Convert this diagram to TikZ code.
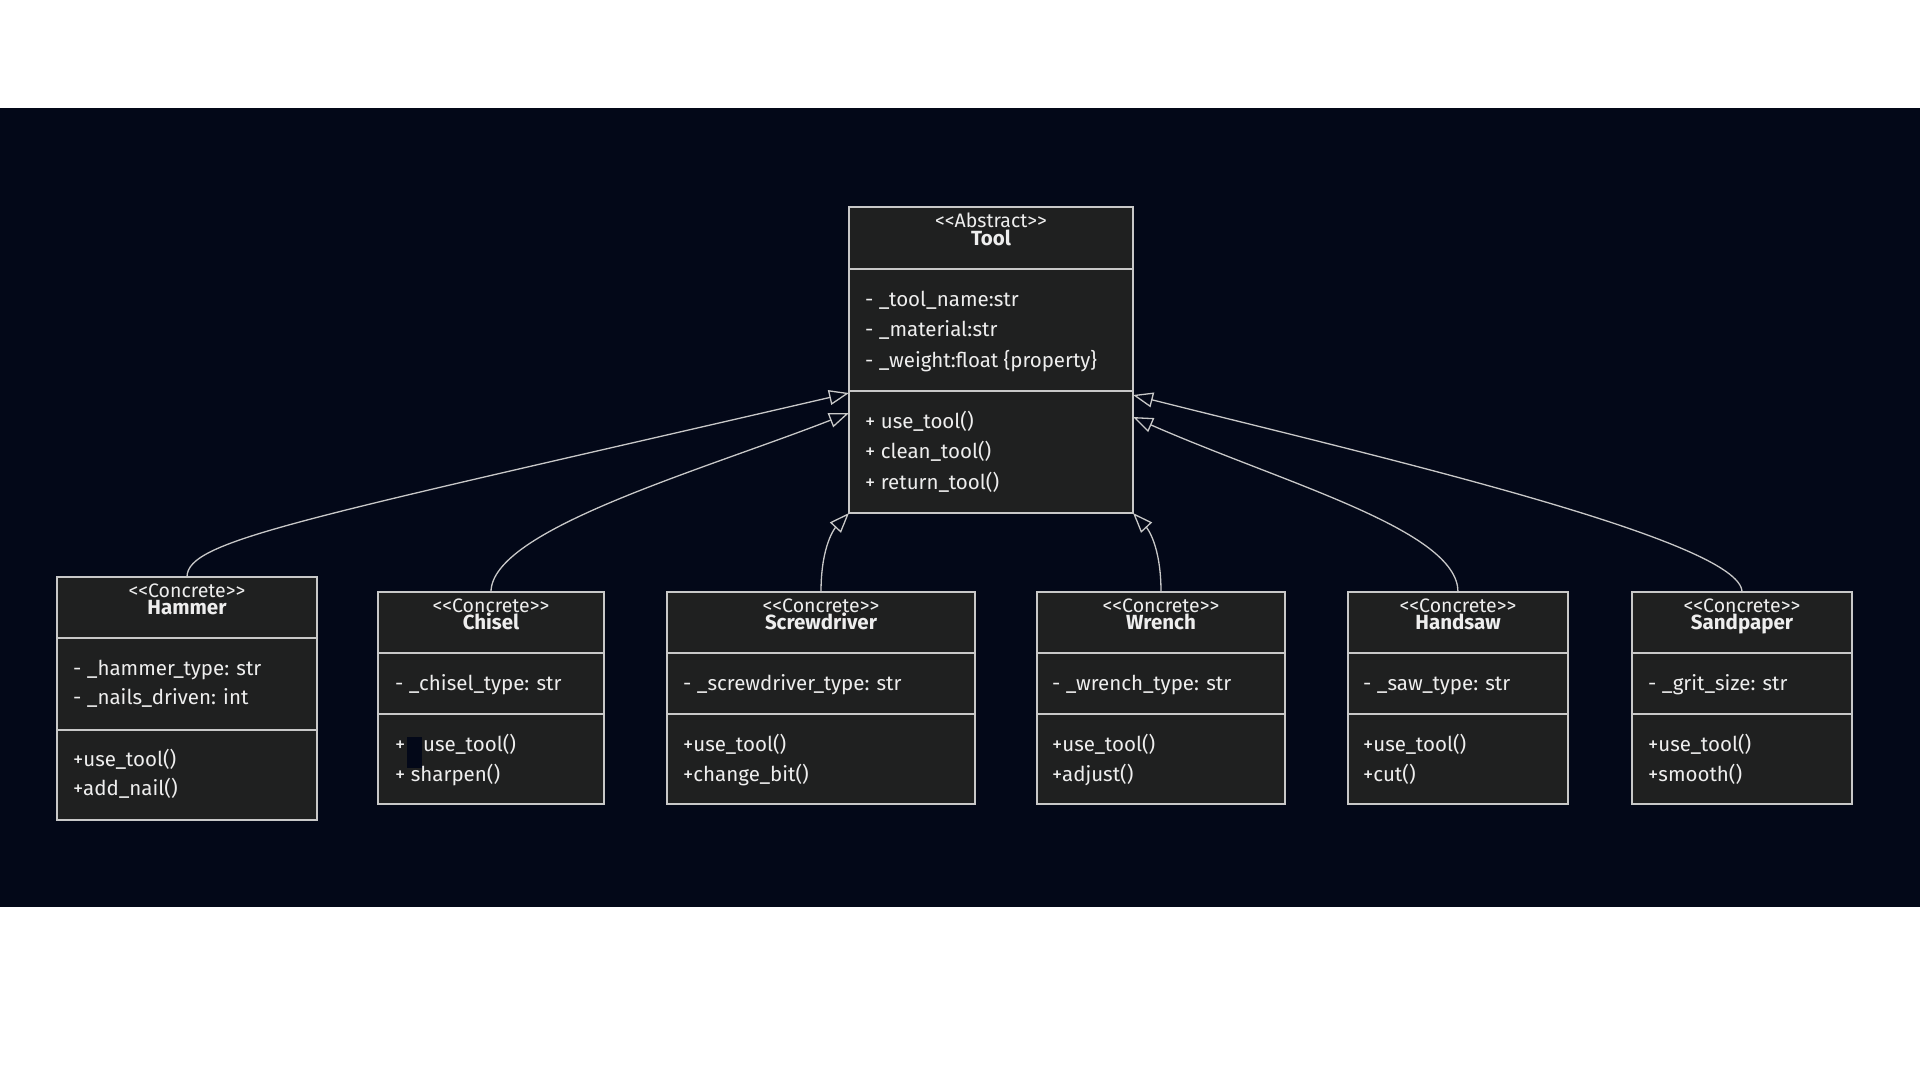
\documentclass[tikz,border=0pt]{standalone}
\usepackage{fontspec}
\setmainfont{Fira Sans}
\usetikzlibrary{arrows.meta}

\definecolor{canvas}{RGB}{3,8,24}
\definecolor{boxfill}{RGB}{31,32,32}
\definecolor{edge}{RGB}{200,200,200}
\definecolor{ink}{RGB}{238,238,238}

% guillemet-free stereotype brackets
\newcommand\umlstereo[1]{<\kern0pt<#1>\kern0pt>}

\tikzset{
  classbox/.style={draw=edge, fill=boxfill, line width=1.3pt, anchor=north west,
                   inner sep=0pt, outer sep=0pt},
  divider/.style={draw=edge, line width=1.3pt},
  member/.style={anchor=base west, text=ink, inner sep=0pt,
                 font=\fontsize{20.5}{22}\selectfont},
  stype/.style={anchor=base, text=ink, inner sep=0pt,
                font=\fontsize{19.5}{22}\selectfont},
  cname/.style={anchor=base, text=ink, inner sep=0pt,
                font=\fontsize{20.5}{22}\selectfont\bfseries},
  inherit/.style={draw=edge, line width=1.3pt,
                  -{Triangle[length=20pt, width=15pt, fill=canvas]}},
}

\begin{document}
\begin{tikzpicture}[x=1pt, y=-1pt]
  \useasboundingbox (0,0) rectangle (1920,1080);
  \fill[white] (0,0) rectangle (1920,1080);
  \fill[canvas] (0,108) rectangle (1920,907);

  % ---------- abstract base class ----------
  \node[classbox, minimum width=284pt, minimum height=306pt] (tool) at (849,207) {};
  \draw[divider] ([yshift=-62pt]tool.north west) -- ([yshift=-62pt]tool.north east);
  \draw[divider] ([yshift=-184pt]tool.north west) -- ([yshift=-184pt]tool.north east);
  \node[stype] (tool-st) at ([yshift=-20pt]tool.north) {\umlstereo{Abstract}};
  \node[cname] (tool-nm) at ([yshift=-38pt]tool.north) {Tool};
  \node[member] (tool-a1) at ([shift={(16,99)}]tool.north west) {- \_tool\_name:str};
  \node[member] (tool-a2) at ([shift={(16,129.5)}]tool.north west) {- \_material:str};
  \node[member] (tool-a3) at ([shift={(16,160)}]tool.north west) {- \_weight:float \{property\}};
  \node[member] (tool-m1) at ([shift={(16,221)}]tool.north west) {+ use\_tool()};
  \node[member] (tool-m2) at ([shift={(16,251.5)}]tool.north west) {+ clean\_tool()};
  \node[member] (tool-m3) at ([shift={(16,282)}]tool.north west) {+ return\_tool()};

  % ---------- Hammer ----------
  \node[classbox, minimum width=260pt, minimum height=243pt] (hammer) at (57,577) {};
  \draw[divider] ([yshift=-61pt]hammer.north west) -- ([yshift=-61pt]hammer.north east);
  \draw[divider] ([yshift=-153pt]hammer.north west) -- ([yshift=-153pt]hammer.north east);
  \node[stype] (hammer-st) at ([yshift=-20pt]hammer.north) {\umlstereo{Concrete}};
  \node[cname] (hammer-nm) at ([yshift=-37pt]hammer.north) {Hammer};
  \node[member] (hammer-a1) at ([shift={(16,98)}]hammer.north west) {- \_hammer\_type: str};
  \node[member] (hammer-a2) at ([shift={(16,127)}]hammer.north west) {- \_nails\_driven: int};
  \node[member] (hammer-m1) at ([shift={(16,189)}]hammer.north west) {+use\_tool()};
  \node[member] (hammer-m2) at ([shift={(16,218)}]hammer.north west) {+add\_nail()};

  % ---------- Chisel ----------
  \node[classbox, minimum width=226pt, minimum height=212pt] (chisel) at (378,592) {};
  \draw[divider] ([yshift=-61pt]chisel.north west) -- ([yshift=-61pt]chisel.north east);
  \draw[divider] ([yshift=-122pt]chisel.north west) -- ([yshift=-122pt]chisel.north east);
  \node[stype] (chisel-st) at ([yshift=-20pt]chisel.north) {\umlstereo{Concrete}};
  \node[cname] (chisel-nm) at ([yshift=-37pt]chisel.north) {Chisel};
  \node[member] (chisel-a1) at ([shift={(17,98)}]chisel.north west) {- \_chisel\_type: str};
  \node[member] (chisel-m1) at ([shift={(17,159)}]chisel.north west) {+};
  \node[member] (chisel-m1b) at ([shift={(45,159)}]chisel.north west) {use\_tool()};
  \node[member] (chisel-m2) at ([shift={(17,189)}]chisel.north west) {+ sharpen()};
  \fill[canvas] (407,737) rectangle (422,768);

  % ---------- Screwdriver ----------
  \node[classbox, minimum width=308pt, minimum height=212pt] (screw) at (667,592) {};
  \draw[divider] ([yshift=-61pt]screw.north west) -- ([yshift=-61pt]screw.north east);
  \draw[divider] ([yshift=-122pt]screw.north west) -- ([yshift=-122pt]screw.north east);
  \node[stype] (screw-st) at ([yshift=-20pt]screw.north) {\umlstereo{Concrete}};
  \node[cname] (screw-nm) at ([yshift=-37pt]screw.north) {Screwdriver};
  \node[member] (screw-a1) at ([shift={(16,98)}]screw.north west) {- \_screwdriver\_type: str};
  \node[member] (screw-m1) at ([shift={(16,159)}]screw.north west) {+use\_tool()};
  \node[member] (screw-m2) at ([shift={(16,189)}]screw.north west) {+change\_bit()};

  % ---------- Wrench ----------
  \node[classbox, minimum width=248pt, minimum height=212pt] (wrench) at (1037,592) {};
  \draw[divider] ([yshift=-61pt]wrench.north west) -- ([yshift=-61pt]wrench.north east);
  \draw[divider] ([yshift=-122pt]wrench.north west) -- ([yshift=-122pt]wrench.north east);
  \node[stype] (wrench-st) at ([yshift=-20pt]wrench.north) {\umlstereo{Concrete}};
  \node[cname] (wrench-nm) at ([yshift=-37pt]wrench.north) {Wrench};
  \node[member] (wrench-a1) at ([shift={(15,98)}]wrench.north west) {- \_wrench\_type: str};
  \node[member] (wrench-m1) at ([shift={(15,159)}]wrench.north west) {+use\_tool()};
  \node[member] (wrench-m2) at ([shift={(15,189)}]wrench.north west) {+adjust()};

  % ---------- Handsaw ----------
  \node[classbox, minimum width=220pt, minimum height=212pt] (handsaw) at (1348,592) {};
  \draw[divider] ([yshift=-61pt]handsaw.north west) -- ([yshift=-61pt]handsaw.north east);
  \draw[divider] ([yshift=-122pt]handsaw.north west) -- ([yshift=-122pt]handsaw.north east);
  \node[stype] (handsaw-st) at ([yshift=-20pt]handsaw.north) {\umlstereo{Concrete}};
  \node[cname] (handsaw-nm) at ([yshift=-37pt]handsaw.north) {Handsaw};
  \node[member] (handsaw-a1) at ([shift={(15,98)}]handsaw.north west) {- \_saw\_type: str};
  \node[member] (handsaw-m1) at ([shift={(15,159)}]handsaw.north west) {+use\_tool()};
  \node[member] (handsaw-m2) at ([shift={(15,189)}]handsaw.north west) {+cut()};

  % ---------- Sandpaper ----------
  \node[classbox, minimum width=220pt, minimum height=212pt] (sand) at (1632,592) {};
  \draw[divider] ([yshift=-61pt]sand.north west) -- ([yshift=-61pt]sand.north east);
  \draw[divider] ([yshift=-122pt]sand.north west) -- ([yshift=-122pt]sand.north east);
  \node[stype] (sand-st) at ([yshift=-20pt]sand.north) {\umlstereo{Concrete}};
  \node[cname] (sand-nm) at ([yshift=-37pt]sand.north) {Sandpaper};
  \node[member] (sand-a1) at ([shift={(16,98)}]sand.north west) {- \_grit\_size: str};
  \node[member] (sand-m1) at ([shift={(16,159)}]sand.north west) {+use\_tool()};
  \node[member] (sand-m2) at ([shift={(16,189)}]sand.north west) {+smooth()};

  % ---------- inheritance ----------
  \draw[inherit] (hammer.north) .. controls +(0,-37) and +(-549,127) .. ([yshift=-186pt]tool.north west);
  \draw[inherit] (chisel.north) .. controls +(0,-62) and +(-149,58) .. ([yshift=-206pt]tool.north west);
  \draw[inherit] (screw.north) .. controls +(0,-47) and +(-14,15) .. (tool.south west);
  \draw[inherit] (wrench.north) .. controls +(0,-47) and +(14,15) .. (tool.south east);
  \draw[inherit] (handsaw.north) .. controls +(0,-62) and +(150,66) .. ([yshift=-210pt]tool.north east);
  \draw[inherit] (sand.north) .. controls +(0,-52) and +(230,58) .. ([yshift=-188pt]tool.north east);
\end{tikzpicture}
\end{document}
